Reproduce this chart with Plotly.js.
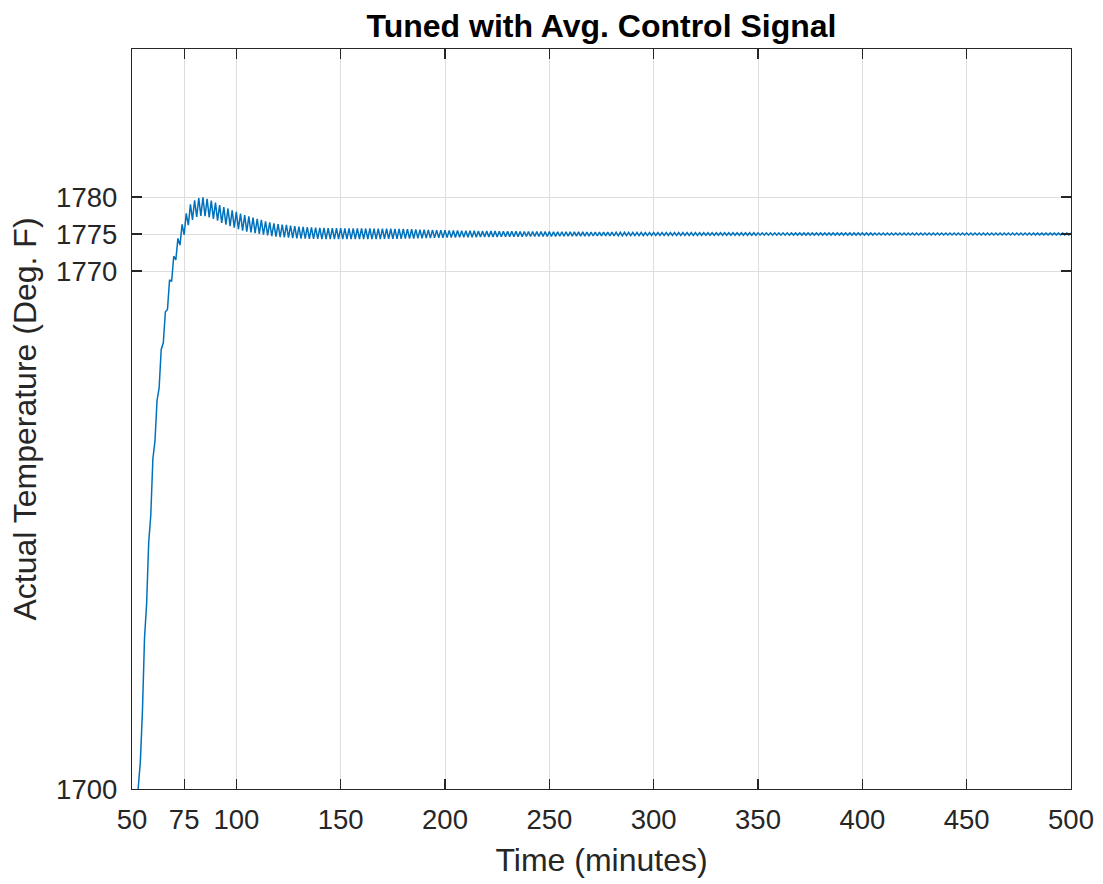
<!DOCTYPE html>
<html>
<head>
<meta charset="utf-8">
<script src="https://cdn.plot.ly/plotly-3.0.1.min.js"></script>
<style>
  html, body { margin: 0; padding: 0; background: #ffffff; }
  #chart { width: 1103px; height: 884px; }
</style>
</head>
<body>
<div id="chart"></div>
<script>
// ---- Data ----
const chartTitle = "Tuned with Avg. Control Signal";
const xAxisTitle = "Time (minutes)";
const yAxisTitle = "Actual Temperature (Deg. F)";

const sampleStartMinute = 52;   // first sample time
const sampleStepMinutes = 1;    // one sample per minute

// Actual temperature (Deg. F), one value per minute starting at minute 52
const temperatureDegF = [
  1694.0, 1700.2, 1703.7, 1710.5, 1720.4, 1725.0, 1733.3, 1737.0, 1744.6, 1747.0,   // 52
  1752.5, 1754.2, 1759.4, 1760.3, 1764.5, 1764.8, 1768.8, 1768.6, 1772.0, 1771.5,   // 62
  1774.4, 1773.5, 1776.3, 1774.9, 1777.8, 1776.2, 1779.0, 1776.9, 1779.55, 1777.3,  // 72
  1779.85, 1777.45, 1779.95, 1777.4, 1779.75, 1777.25, 1779.5, 1777.05, 1779.25, 1776.8, // 82
  1778.9, 1776.5, 1778.65, 1776.25, 1778.45, 1776.05, 1778.2, 1775.85, 1778.0, 1775.65,  // 92
  1777.75, 1775.45, 1777.55, 1775.33, 1777.38, 1775.2, 1777.22, 1775.1, 1777.05, 1775.0, // 102
  1776.9, 1774.9, 1776.72, 1774.8, 1776.58, 1774.72, 1776.45, 1774.64, 1776.35, 1774.58, // 112
  1776.28, 1774.54, 1776.22, 1774.5, 1776.12, 1774.45, 1776.05, 1774.4, 1776.0, 1774.38, // 122
  1775.95, 1774.36, 1775.92, 1774.35, 1775.88, 1774.34, 1775.86, 1774.33, 1775.84, 1774.32, // 132
  1775.82, 1774.31, 1775.8, 1774.31, 1775.8, 1774.3, 1775.78, 1774.3, 1775.78, 1774.3,   // 142
  1775.77, 1774.3, 1775.76, 1774.3, 1775.76, 1774.3, 1775.75, 1774.31, 1775.75, 1774.31, // 152
  1775.74, 1774.31, 1775.74, 1774.32, 1775.73, 1774.32, 1775.73, 1774.32, 1775.72, 1774.33, // 162
  1775.72, 1774.33, 1775.71, 1774.34, 1775.7, 1774.35, 1775.69, 1774.36, 1775.68, 1774.37, // 172
  1775.66, 1774.38, 1775.64, 1774.39, 1775.62, 1774.41, 1775.6, 1774.42, 1775.58, 1774.44, // 182
  1775.56, 1774.45, 1775.55, 1774.47, 1775.53, 1774.48, 1775.52, 1774.5, 1775.5, 1774.51,  // 192
  1775.49, 1774.52, 1775.48, 1774.53, 1775.47, 1774.54, 1775.46, 1774.55, 1775.45, 1774.56, // 202
  1775.44, 1774.57, 1775.43, 1774.57, 1775.42, 1774.58, 1775.41, 1774.59, 1775.4, 1774.6,  // 212
  1775.4, 1774.6, 1775.39, 1774.61, 1775.38, 1774.62, 1775.37, 1774.62, 1775.37, 1774.63,  // 222
  1775.36, 1774.63, 1775.36, 1774.64, 1775.35, 1774.64, 1775.35, 1774.65, 1775.34, 1774.65, // 232
  1775.34, 1774.66, 1775.33, 1774.66, 1775.33, 1774.67, 1775.32, 1774.67, 1775.32, 1774.68, // 242
  1775.31, 1774.68, 1775.31, 1774.69, 1775.3, 1774.69, 1775.3, 1774.7, 1775.29, 1774.7,    // 252
  1775.29, 1774.71, 1775.28, 1774.71, 1775.28, 1774.72, 1775.27, 1774.72, 1775.27, 1774.73, // 262
  1775.26, 1774.73, 1775.26, 1774.74, 1775.25, 1774.74, 1775.25, 1774.75, 1775.24, 1774.75, // 272
  1775.24, 1774.76, 1775.23, 1774.76, 1775.23, 1774.77, 1775.22, 1774.77, 1775.22, 1774.78, // 282
  1775.21, 1774.78, 1775.21, 1774.79, 1775.2, 1774.79, 1775.2, 1774.8, 1775.2, 1774.8,     // 292
  1775.2, 1774.8, 1775.2, 1774.8, 1775.2, 1774.8, 1775.2, 1774.8, 1775.19, 1774.81,        // 302
  1775.19, 1774.81, 1775.19, 1774.81, 1775.19, 1774.81, 1775.19, 1774.81, 1775.19, 1774.81, // 312
  1775.18, 1774.82, 1775.18, 1774.82, 1775.18, 1774.82, 1775.18, 1774.82, 1775.18, 1774.82, // 322
  1775.18, 1774.82, 1775.18, 1774.82, 1775.17, 1774.83, 1775.17, 1774.83, 1775.17, 1774.83, // 332
  1775.17, 1774.83, 1775.17, 1774.83, 1775.17, 1774.83, 1775.17, 1774.83, 1775.16, 1774.84, // 342
  1775.16, 1774.84, 1775.16, 1774.84, 1775.16, 1774.84, 1775.16, 1774.84, 1775.16, 1774.84, // 352
  1775.16, 1774.84, 1775.16, 1774.84, 1775.15, 1774.85, 1775.15, 1774.85, 1775.15, 1774.85, // 362
  1775.15, 1774.85, 1775.15, 1774.85, 1775.15, 1774.85, 1775.15, 1774.85, 1775.15, 1774.85, // 372
  1775.15, 1774.85, 1775.15, 1774.85, 1775.15, 1774.85, 1775.15, 1774.85, 1775.15, 1774.85, // 382
  1775.15, 1774.85, 1775.15, 1774.85, 1775.15, 1774.85, 1775.15, 1774.85, 1775.15, 1774.85, // 392
  1775.15, 1774.85, 1775.15, 1774.85, 1775.14, 1774.86, 1775.14, 1774.86, 1775.14, 1774.86, // 402
  1775.14, 1774.86, 1775.14, 1774.86, 1775.14, 1774.86, 1775.14, 1774.86, 1775.14, 1774.86, // 412
  1775.14, 1774.86, 1775.14, 1774.86, 1775.14, 1774.86, 1775.14, 1774.86, 1775.14, 1774.86, // 422
  1775.14, 1774.86, 1775.14, 1774.86, 1775.13, 1774.87, 1775.13, 1774.87, 1775.13, 1774.87, // 432
  1775.13, 1774.87, 1775.13, 1774.87, 1775.13, 1774.87, 1775.13, 1774.87, 1775.13, 1774.87, // 442
  1775.13, 1774.87, 1775.13, 1774.87, 1775.13, 1774.87, 1775.13, 1774.87, 1775.13, 1774.87, // 452
  1775.13, 1774.87, 1775.13, 1774.87, 1775.13, 1774.87, 1775.13, 1774.87, 1775.13, 1774.87, // 462
  1775.13, 1774.87, 1775.13, 1774.87, 1775.13, 1774.87, 1775.13, 1774.87, 1775.13, 1774.87, // 472
  1775.12, 1774.88, 1775.12, 1774.88, 1775.12, 1774.88, 1775.12, 1774.88, 1775.12, 1774.88, // 482
  1775.12, 1774.88, 1775.12, 1774.88, 1775.12, 1774.88, 1775.12, 1774.88, 1775.12           // 492
];

const xRange = [50, 500];
const yRange = [1700, 1800];
const xTickValues = [50, 75, 100, 150, 200, 250, 300, 350, 400, 450, 500];
const yTickValues = [1700, 1770, 1775, 1780];

// ---- Build the trace from the data ----
const timeMinutes = temperatureDegF.map((_, i) => sampleStartMinute + i * sampleStepMinutes);

const axisColor = '#262626';
const gridColor = '#dedede';
const fontFamily = '"Liberation Sans", Arial, Helvetica, sans-serif';

const trace = {
  type: 'scatter',
  mode: 'lines',
  x: timeMinutes,
  y: temperatureDegF,
  line: { color: '#0072BD', width: 1.5 },
  hoverinfo: 'skip'
};

const commonAxis = {
  showline: true,
  linecolor: axisColor,
  linewidth: 1.2,
  mirror: 'ticks',
  ticks: 'inside',
  ticklen: 10,
  tickwidth: 1.2,
  tickcolor: axisColor,
  showgrid: true,
  gridcolor: gridColor,
  gridwidth: 1,
  zeroline: false,
  automargin: false,
  tickfont: { family: fontFamily, size: 27.5, color: axisColor }
};

const layout = {
  width: 1103,
  height: 884,
  paper_bgcolor: '#ffffff',
  plot_bgcolor: '#ffffff',
  margin: { l: 132, r: 32, t: 49, b: 95 },
  showlegend: false,
  title: {
    text: '<b>' + chartTitle + '</b>',
    font: { family: fontFamily, size: 32, color: '#000000' },
    x: 0.5, xref: 'paper', xanchor: 'center',
    y: 1 - 26 / 884, yref: 'container', yanchor: 'middle'
  },
  xaxis: Object.assign({}, commonAxis, {
    range: xRange,
    tickmode: 'array',
    tickvals: xTickValues,
    ticktext: xTickValues.map(String),
    ticklabelstandoff: 6,
    title: { text: xAxisTitle, font: { family: fontFamily, size: 32, color: axisColor }, standoff: 14 }
  }),
  yaxis: Object.assign({}, commonAxis, {
    range: yRange,
    tickmode: 'array',
    tickvals: yTickValues,
    ticktext: yTickValues.map(String),
    ticklabelstandoff: 8,
    title: { text: yAxisTitle, font: { family: fontFamily, size: 32, color: axisColor }, standoff: 10 }
  })
};

Plotly.newPlot('chart', [trace], layout, { staticPlot: true, displayModeBar: false });
</script>
</body>
</html>
